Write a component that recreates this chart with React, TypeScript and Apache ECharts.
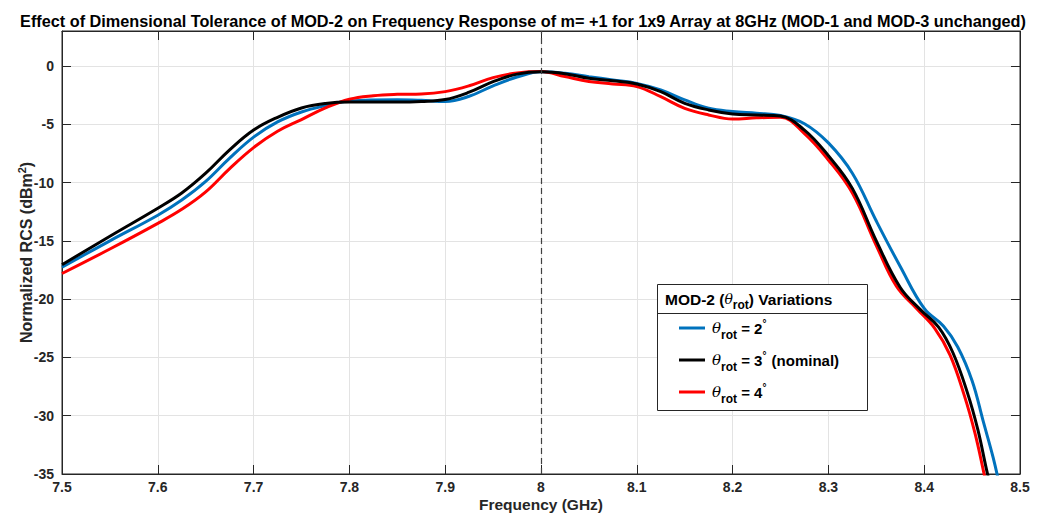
import React, { useEffect, useRef } from "react";
import * as echarts from "echarts";

const titleText =
  "Effect of Dimensional Tolerance of MOD-2 on Frequency Response of m= +1 for 1x9 Array at 8GHz (MOD-1 and MOD-3 unchanged)";
const xName = "Frequency (GHz)";
const seriesNames = ["θrot = 2°", "θrot = 3° (nominal)", "θrot = 4°"];
const seriesColors = ["#0072BD", "#000000", "#FF0000"];

const freqBlue = [7.5, 7.55, 7.6, 7.625, 7.65, 7.675, 7.7, 7.725, 7.75, 7.775, 7.8, 7.85, 7.875, 7.9, 7.925, 7.95, 7.975, 8.0, 8.025, 8.05, 8.075, 8.1, 8.125, 8.15, 8.175, 8.2, 8.225, 8.25, 8.275, 8.3, 8.325, 8.35, 8.375, 8.4, 8.42, 8.435, 8.45, 8.462, 8.472, 8.48];
const rcsBlue = [-17.25, -15.0, -12.8, -11.5, -9.9, -7.9, -6.1, -4.8, -3.95, -3.4, -3.0, -2.9, -2.95, -3.05, -2.6, -1.7, -0.95, -0.5, -0.63, -0.92, -1.2, -1.49, -2.06, -2.91, -3.63, -3.91, -4.06, -4.25, -4.95, -6.6, -9.2, -13.3, -17.2, -20.8, -22.3, -24.1, -27.0, -30.6, -33.6, -36.5];

const freqBlack = [7.5, 7.55, 7.6, 7.625, 7.65, 7.675, 7.7, 7.725, 7.75, 7.775, 7.8, 7.85, 7.875, 7.9, 7.925, 7.95, 7.975, 8.0, 8.025, 8.05, 8.075, 8.1, 8.125, 8.15, 8.175, 8.2, 8.225, 8.25, 8.275, 8.3, 8.325, 8.35, 8.375, 8.396, 8.415, 8.43, 8.445, 8.456, 8.465, 8.472];
const rcsBlack = [-17.05, -14.6, -12.2, -10.9, -9.2, -7.2, -5.5, -4.4, -3.6, -3.22, -3.1, -3.1, -3.05, -2.88, -2.25, -1.35, -0.7, -0.5, -0.66, -1.06, -1.26, -1.54, -2.2, -3.2, -3.77, -4.11, -4.2, -4.3, -5.5, -7.7, -10.5, -15.0, -19.0, -20.9, -22.4, -24.6, -28.0, -31.2, -34.6, -37.0];

const freqRed = [7.5, 7.55, 7.6, 7.625, 7.65, 7.675, 7.7, 7.725, 7.75, 7.775, 7.8, 7.825, 7.85, 7.875, 7.9, 7.925, 7.95, 7.975, 8.0, 8.025, 8.05, 8.075, 8.1, 8.125, 8.15, 8.175, 8.2, 8.225, 8.25, 8.275, 8.3, 8.325, 8.35, 8.371, 8.392, 8.411, 8.427, 8.442, 8.453, 8.462, 8.469];
const rcsRed = [-17.8, -15.7, -13.5, -12.3, -10.8, -8.8, -7.0, -5.6, -4.6, -3.6, -2.85, -2.55, -2.43, -2.4, -2.2, -1.7, -1.0, -0.6, -0.48, -0.91, -1.34, -1.54, -1.77, -2.63, -3.63, -4.2, -4.55, -4.45, -4.4, -5.8, -8.06, -10.9, -15.4, -18.9, -20.8, -22.5, -24.8, -28.3, -31.5, -34.8, -37.5];

const markerFreq = 8;
const legendValues = ["2", "3", "4"];
const legendSuffix = ["", " (nominal)", ""];

const FONT = "'Liberation Sans', Arial, Helvetica, sans-serif";
const AXIS_COLOR = "#262626";

function zip(xs: number[], ys: number[]) {
  return xs.map((x, i) => [x, ys[i]]);
}

export default function App() {
  const ref = useRef<HTMLDivElement>(null);
  useEffect(() => {
    if (!ref.current) return;
    const chart = echarts.init(ref.current, undefined, { renderer: "svg" });
    const data = [zip(freqBlue, rcsBlue), zip(freqBlack, rcsBlack), zip(freqRed, rcsRed)];
    const legendTops = [318, 350, 382];
    const richLegend = {
      th: { fontFamily: "'DejaVu Serif', serif", fontStyle: "italic", fontSize: 15, color: "#000" },
      sub: { fontFamily: FONT, fontWeight: "bold", fontSize: 12, color: "#000", padding: [14, 0, 0, 0] },
      t: { fontFamily: FONT, fontWeight: "bold", fontSize: 15, color: "#000" },
      sup: { fontFamily: FONT, fontWeight: "bold", fontSize: 10, color: "#000", padding: [0, 1, 10, 0] },
    };
    const axisLine = { show: true, onZero: false, lineStyle: { color: AXIS_COLOR, width: 1 } };
    const axisTick = { show: true, inside: true, length: 9, lineStyle: { color: AXIS_COLOR, width: 1 } };
    const splitLine = {
      show: true,
      showMinLine: false,
      showMaxLine: false,
      lineStyle: { color: "#e3e3e3", width: 1 },
    };
    const option: any = {
      animation: false,
      backgroundColor: "#ffffff",
      title: {
        text: titleText,
        left: "center",
        top: 8,
        padding: [5, 5, 5, 17],
        textStyle: { fontFamily: FONT, fontWeight: "bold", fontSize: 16.25, color: "#000" },
      },
      grid: {
        left: 62,
        right: 26,
        top: 31,
        bottom: 39,
        outerBoundsMode: "none",
        show: true,
        borderColor: AXIS_COLOR,
        borderWidth: 1,
      },
      xAxis: [
        {
          type: "value",
          min: 7.5,
          max: 8.5,
          interval: 0.1,
          position: "bottom",
          axisLine,
          axisTick,
          axisLabel: {
            color: AXIS_COLOR,
            fontFamily: FONT,
            fontWeight: "bold",
            fontSize: 14,
            lineHeight: 14,
            margin: 6,
            formatter: (v: number) => String(parseFloat(v.toFixed(2))),
          },
          splitLine,
          name: xName,
          nameLocation: "middle",
          nameGap: 23,
          nameMoveOverlap: false,
          nameTextStyle: { fontFamily: FONT, fontWeight: "bold", fontSize: 15.5, lineHeight: 15, color: AXIS_COLOR },
        },
        {
          type: "value",
          min: 7.5,
          max: 8.5,
          interval: 0.1,
          position: "top",
          axisLine,
          axisTick,
          axisLabel: { show: false },
          splitLine: { show: false },
        },
      ],
      yAxis: [
        {
          type: "value",
          min: -35,
          max: 3,
          interval: 5,
          position: "left",
          axisLine,
          axisTick,
          axisLabel: {
            color: AXIS_COLOR,
            fontFamily: FONT,
            fontWeight: "bold",
            fontSize: 14,
            margin: 8,
            showMaxLabel: false,
            formatter: (v: number) => (v > 0 ? "" : String(v)),
          },
          splitLine,
          name: "{a|Normalized RCS (dBm}{s|2}{a|)}",
          nameLocation: "middle",
          nameGap: 26,
          nameRotate: 90,
          nameMoveOverlap: false,
          nameTextStyle: {
            rich: {
              a: { fontFamily: FONT, fontWeight: "bold", fontSize: 16, color: AXIS_COLOR },
              s: { fontFamily: FONT, fontWeight: "bold", fontSize: 11, color: AXIS_COLOR, padding: [0, 0, 9, 0] },
            },
          },
        },
        {
          type: "value",
          min: -35,
          max: 3,
          interval: 5,
          position: "right",
          axisLine,
          axisTick,
          axisLabel: { show: false },
          splitLine: { show: false },
        },
      ],
      legend: [0, 1, 2].map((i) => ({
        data: [seriesNames[i]],
        left: 679,
        top: legendTops[i],
        orient: "vertical",
        icon: "rect",
        itemWidth: 26,
        itemHeight: 3,
        itemGap: 0,
        padding: 0,
        selectedMode: false,
        z: 10,
        formatter: () => `{th|θ}{sub|rot}{t| = ${legendValues[i]}}{sup|°}{t|${legendSuffix[i]}}`,
        textStyle: { rich: richLegend, padding: [0, 0, 0, 2] },
      })),
      graphic: [
        {
          type: "rect",
          z: 5,
          shape: { x: 657.5, y: 284.5, width: 210, height: 126 },
          style: { fill: "#ffffff", stroke: AXIS_COLOR, lineWidth: 1 },
        },
        {
          type: "line",
          z: 6,
          shape: { x1: 657.5, y1: 313.5, x2: 867.5, y2: 313.5 },
          style: { stroke: AXIS_COLOR, lineWidth: 1 },
        },
        {
          type: "text",
          z: 6,
          x: 665,
          y: 287,
          style: {
            text: "{b|MOD-2 (}{th|θ}{sub|rot}{b|) Variations}",
            rich: {
              b: { fontFamily: FONT, fontWeight: "bold", fontSize: 15.5, fill: "#000" },
              th: { fontFamily: "'DejaVu Serif', serif", fontStyle: "italic", fontSize: 14, fill: "#000" },
              sub: { fontFamily: FONT, fontWeight: "bold", fontSize: 12, fill: "#000", padding: [12, 0, 0, 0] },
            },
          },
        },
      ],
      series: [0, 1, 2].map((i) => ({
        name: seriesNames[i],
        type: "line",
        data: data[i],
        smooth: 0.4,
        showSymbol: false,
        symbol: "none",
        clip: true,
        lineStyle: { color: seriesColors[i], width: 3 },
        itemStyle: { color: seriesColors[i] },
        z: i === 1 ? 3 : i === 2 ? 2.5 : 2,
        markLine:
          i === 1
            ? {
                silent: true,
                symbol: ["none", "none"],
                label: { show: false },
                lineStyle: { type: [6, 4], color: "#404040", width: 1.2 },
                data: [{ xAxis: markerFreq }],
              }
            : undefined,
      })),
    };
    chart.setOption(option);
    return () => chart.dispose();
  }, []);
  return (
    <div
      ref={ref}
      style={{ position: "fixed", left: 0, top: 0, width: 1046, height: 513 }}
    />
  );
}
